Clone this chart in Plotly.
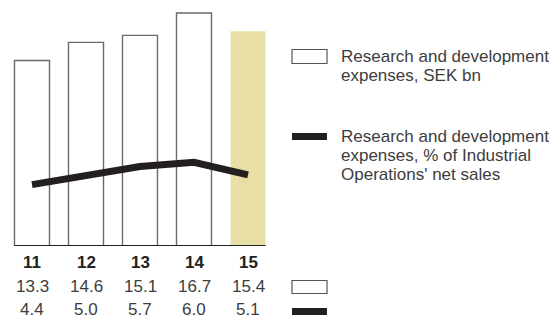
import plotly.graph_objects as go

years = ["11", "12", "13", "14", "15"]
rd_sek_bn = [13.3, 14.6, 15.1, 16.7, 15.4]
rd_pct_sales = [4.4, 5.0, 5.7, 6.0, 5.1]
legend_bar = ["Research and development", "expenses, SEK bn"]
legend_line = ["Research and development", "expenses, % of Industrial", "Operations' net sales"]

FONT = "Liberation Sans, Arial, sans-serif"
TXT = "#3d3d3d"
DARK = "#231f20"
BEIGE = "#e8dfa6"

# plot area in pixels (used to place the hand-made legend / table)
L, W, T, H = 5, 270, 0, 246


def px(x):
    return (x - L) / W


def py(y):
    return (T + H - y) / H


fig = go.Figure()

fig.add_trace(go.Bar(
    x=years[:-1], y=rd_sek_bn[:-1],
    marker=dict(color="white", line=dict(color="#6a6a6a", width=1.4)),
    showlegend=False,
))
fig.add_trace(go.Bar(
    x=years[-1:], y=rd_sek_bn[-1:],
    marker=dict(color=BEIGE, line=dict(width=0)),
    showlegend=False,
))
fig.add_trace(go.Scatter(
    x=years, y=rd_pct_sales, mode="lines",
    line=dict(color=DARK, width=7),
    showlegend=False,
))

# baseline
fig.add_shape(type="line", xref="x", yref="y", x0=-0.325, x1=4.325, y0=0, y1=0,
              line=dict(color=DARK, width=2))

# table under the chart (x given as category index)
for i, yr in enumerate(years):
    fig.add_annotation(x=i, y=0, xref="x", yref="paper", yshift=246 - 262.5,
                       text="<b>" + yr + "</b>", showarrow=False,
                       font=dict(size=17, color="#222"), yanchor="middle")
    fig.add_annotation(x=i, y=0, xref="x", yref="paper", yshift=246 - 286.5,
                       text="%.1f" % rd_sek_bn[i], showarrow=False,
                       font=dict(size=17, color=TXT), yanchor="middle")
    fig.add_annotation(x=i, y=0, xref="x", yref="paper", yshift=246 - 309.5,
                       text="%.1f" % rd_pct_sales[i], showarrow=False,
                       font=dict(size=17, color=TXT), yanchor="middle")

# swatches next to table rows
fig.add_shape(type="rect", xref="paper", yref="paper", x0=px(292), x1=px(327),
              y0=py(280.5), y1=py(293.5), fillcolor="white",
              line=dict(color="#555", width=1.2))
fig.add_shape(type="rect", xref="paper", yref="paper", x0=px(292), x1=px(327),
              y0=py(308), y1=py(315), fillcolor=DARK, line=dict(width=0))

# legend
fig.add_shape(type="rect", xref="paper", yref="paper", x0=px(292), x1=px(327),
              y0=py(49.5), y1=py(63.5), fillcolor="white",
              line=dict(color="#555", width=1.2))
fig.add_shape(type="rect", xref="paper", yref="paper", x0=px(292), x1=px(327),
              y0=py(133), y1=py(140), fillcolor=DARK, line=dict(width=0))
for j, s in enumerate(legend_bar):
    fig.add_annotation(x=px(339), y=py(56.5 + 19.2 * j), xref="paper", yref="paper",
                       text=s, showarrow=False, xanchor="left", yanchor="middle",
                       font=dict(size=17, color=TXT))
for j, s in enumerate(legend_line):
    fig.add_annotation(x=px(339), y=py(136.5 + 19.2 * j), xref="paper", yref="paper",
                       text=s, showarrow=False, xanchor="left", yanchor="middle",
                       font=dict(size=17, color=TXT))

fig.update_layout(
    width=560, height=320,
    margin=dict(l=L, r=560 - L - W, t=T, b=320 - T - H),
    plot_bgcolor="white", paper_bgcolor="white",
    font=dict(family=FONT, color=TXT),
    bargap=1 - 35 / 54,
    xaxis=dict(type="category", range=[-0.5, 4.5], visible=False),
    yaxis=dict(range=[0, H / 13.95], visible=False),
)

# page body has a default 8px margin; drop it so the chart sits at 0,0
fig.write_html("out.html", config={"displayModeBar": False},
               post_script="document.body.style.margin='0';")
